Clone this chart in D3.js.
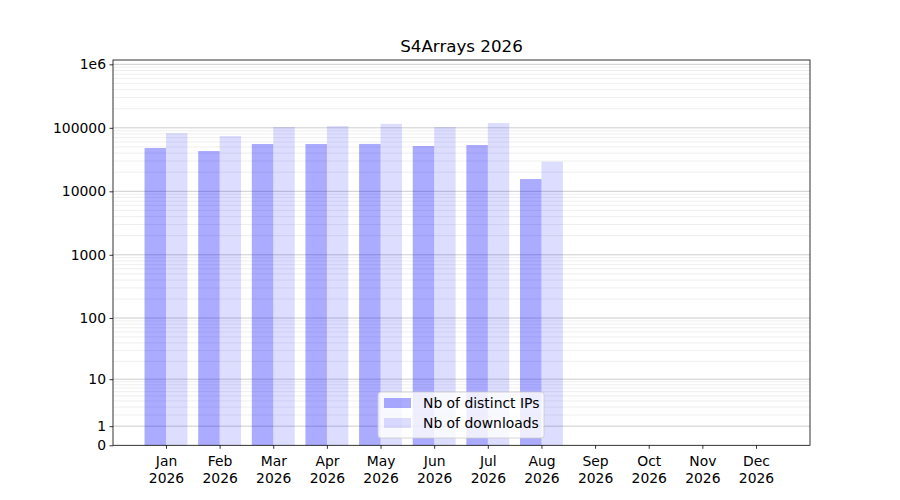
<!DOCTYPE html>
<html>
<head>
<meta charset="utf-8">
<script src="https://cdn.jsdelivr.net/npm/d3@7"></script>
<style>
  body { margin: 0; background: #fff; }
  text { font-family: "DejaVu Sans", sans-serif; fill: #000; }
</style>
</head>
<body>
<div id="chart"></div>
<script>
// data
var months = ["Jan", "Feb", "Mar", "Apr", "May", "Jun", "Jul", "Aug", "Sep", "Oct", "Nov", "Dec"];
var year = "2026";
var ips = [48100, 43100, 55600, 55600, 55800, 51700, 53600, 15600];
var downloads = [82800, 74300, 103000, 106700, 115600, 103000, 119000, 29300];
var yTicks = [0, 1, 10, 100, 1000, 10000, 100000, 1000000];
var yTickLabels = ["0", "1", "10", "100", "1000", "10000", "100000", "1e6"];

var width = 900, height = 500;
var plotLeft = 113, plotRight = 810, plotTop = 60, plotBottom = 445.3;

var svg = d3.select("#chart").append("svg")
    .attr("width", width)
    .attr("height", height);

// x: month index, Jan centred at 166, Dec at 756
var x = d3.scaleLinear().domain([-0.988, 12.007]).range([plotLeft, plotRight]);
// y: symlog with constant 1 == log(1+v)
var y = d3.scaleSymlog().constant(1).domain([0, 1170000]).range([plotBottom, plotTop]);

var barW = x(0.4) - x(0);

// minor grid lines 2..9 x 10^k
var minor = [];
for (var k = 0; k <= 5; k++) {
    for (var m = 2; m <= 9; m++) {
        var v = m * Math.pow(10, k);
        if (v < 1170000) minor.push(v);
    }
}

var grid = svg.append("g");
grid.selectAll(".minor")
    .data(minor)
    .enter()
    .append("line")
    .attr("x1", plotLeft).attr("x2", plotRight)
    .attr("y1", function(d) { return y(d); })
    .attr("y2", function(d) { return y(d); })
    .attr("stroke", "#ebebeb")
    .attr("stroke-width", 0.8);

grid.selectAll(".major")
    .data(yTicks.slice(1))
    .enter()
    .append("line")
    .attr("x1", plotLeft).attr("x2", plotRight)
    .attr("y1", function(d) { return y(d); })
    .attr("y2", function(d) { return y(d); })
    .attr("stroke", "#c0c0c0")
    .attr("stroke-width", 0.8);

// bars
svg.append("g").selectAll("rect")
    .data(ips)
    .enter()
    .append("rect")
    .attr("x", function(d, i) { return x(i) - barW; })
    .attr("y", function(d) { return y(d); })
    .attr("width", barW)
    .attr("height", function(d) { return y(0) - y(d); })
    .attr("fill", "blue")
    .attr("fill-opacity", 0.33);

svg.append("g").selectAll("rect")
    .data(downloads)
    .enter()
    .append("rect")
    .attr("x", function(d, i) { return x(i); })
    .attr("y", function(d) { return y(d); })
    .attr("width", barW)
    .attr("height", function(d) { return y(0) - y(d); })
    .attr("fill", "blue")
    .attr("fill-opacity", 0.134);

// axes
var yAxis = d3.axisLeft(y)
    .tickValues(yTicks)
    .tickFormat(function(d, i) { return yTickLabels[i]; })
    .tickSize(3.5)
    .tickPadding(3.5);

var gy = svg.append("g")
    .attr("transform", "translate(" + plotLeft + ",0)")
    .call(yAxis);
gy.select(".domain").remove();
gy.selectAll("text").attr("font-size", "13.9px").style("font-family", "DejaVu Sans");
gy.selectAll("line").attr("stroke", "#000").attr("stroke-width", 0.8);

var xAxis = d3.axisBottom(x)
    .tickValues(d3.range(months.length))
    .tickFormat("")
    .tickSize(3.5);

var gx = svg.append("g")
    .attr("transform", "translate(0," + plotBottom + ")")
    .call(xAxis);
gx.select(".domain").remove();
gx.selectAll("line").attr("stroke", "#000").attr("stroke-width", 0.8);

var lbl = gx.selectAll(".tick").append("text")
    .attr("text-anchor", "middle")
    .attr("font-size", "13.9px");
lbl.append("tspan")
    .attr("x", 0).attr("y", 21)
    .text(function(d) { return months[d]; });
lbl.append("tspan")
    .attr("x", 0).attr("y", 38)
    .text(year);

// frame
svg.append("rect")
    .attr("x", plotLeft).attr("y", plotTop)
    .attr("width", plotRight - plotLeft).attr("height", plotBottom - plotTop)
    .attr("fill", "none")
    .attr("stroke", "#000")
    .attr("stroke-width", 0.8);

// title
svg.append("text")
    .attr("x", (plotLeft + plotRight) / 2)
    .attr("y", 52)
    .attr("text-anchor", "middle")
    .attr("font-size", "16.7px")
    .text("S4Arrays " + year);

// legend
var legendItems = [
    { name: "Nb of distinct IPs", op: 0.33 },
    { name: "Nb of downloads", op: 0.134 }
];
var lg = svg.append("g").attr("transform", "translate(378,392)");
lg.append("rect")
    .attr("width", 166).attr("height", 46)
    .attr("rx", 3)
    .attr("fill", "#fff").attr("fill-opacity", 0.8)
    .attr("stroke", "#cccccc").attr("stroke-width", 0.8);
var li = lg.selectAll(".item")
    .data(legendItems)
    .enter()
    .append("g")
    .attr("transform", function(d, i) { return "translate(0," + (i * 20) + ")"; });
li.append("rect")
    .attr("x", 6).attr("y", 6)
    .attr("width", 27).attr("height", 10)
    .attr("fill", "blue")
    .attr("fill-opacity", function(d) { return d.op; });
li.append("text")
    .attr("x", 45).attr("y", 16)
    .attr("font-size", "13.9px")
    .text(function(d) { return d.name; });
</script>
</body>
</html>
